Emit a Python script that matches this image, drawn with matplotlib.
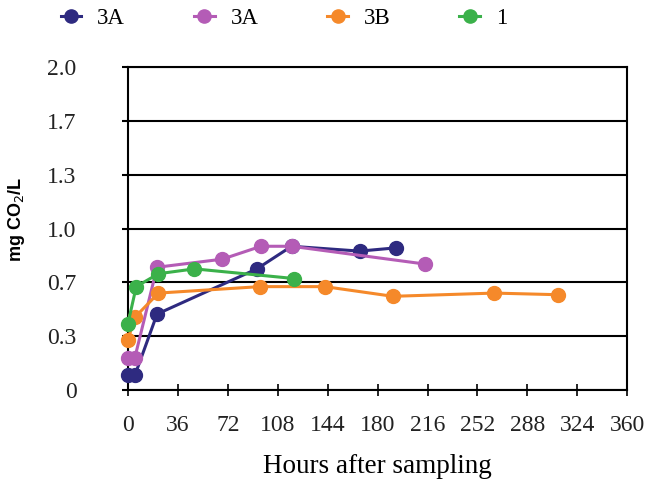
import numpy as np
import matplotlib
matplotlib.use("Agg")
import matplotlib.pyplot as plt

# data (hours, mg CO2/L)
blue_x = [0, 5, 21, 93, 118, 167, 193]
blue_y = [0.09, 0.09, 0.47, 0.75, 0.89, 0.86, 0.88]

pink_x = [0, 5, 21, 68, 96, 118, 214]
pink_y = [0.20, 0.20, 0.76, 0.81, 0.89, 0.89, 0.78]

orange_x = [0, 5, 22, 95, 142, 191, 264, 310]
orange_y = [0.31, 0.45, 0.60, 0.64, 0.64, 0.58, 0.60, 0.59]

green_x = [0, 6, 22, 48, 120]
green_y = [0.41, 0.64, 0.72, 0.75, 0.69]

labels = ["3A", "3A", "3B", "1"]
colors = ["#2e2a80", "#b45cb6", "#f5892a", "#3bb14a"]

xticks = np.arange(0, 361, 36)
yticks = [0, 1/3, 2/3, 1.0, 4/3, 5/3, 2.0]
ytick_labels = ["0", "0.3", "0.7", "1.0", "1.3", "1.7", "2.0"]

serif = "Liberation Serif"

fig = plt.figure(figsize=(6.46, 4.93), dpi=100)
ax = fig.add_axes([0.198, 0.209, 0.773, 0.655])

series = [(blue_x, blue_y), (pink_x, pink_y), (orange_x, orange_y), (green_x, green_y)]
handles = []
for (xs, ys), c, lab in zip(series, colors, labels):
    h, = ax.plot(xs, ys, color=c, lw=2.2, marker="o", markersize=10,
                 label=lab, clip_on=False, zorder=3)
    handles.append(h)

ax.set_xlim(0, 360)
ax.set_ylim(0, 2.0)
ax.set_xticks(xticks)
ax.set_yticks(yticks)
ax.set_yticklabels(ytick_labels)
ax.grid(axis="y", color="black", lw=1.5, zorder=1)
for sp in ax.spines.values():
    sp.set_linewidth(1.5)
    sp.set_color("black")
ax.tick_params(axis="x", direction="inout", length=8, width=1.2, pad=14)
ax.tick_params(axis="y", direction="out", length=4, width=1.5, pad=33)
for t in ax.get_xticklabels() + ax.get_yticklabels():
    t.set_fontfamily(serif)
    t.set_fontsize(17)
    t.set_color("#222222")

ax.set_xlabel("Hours after sampling", fontfamily=serif, fontsize=19.5, labelpad=13)
fig.text(0.025, 0.554, "mg CO$_2$/L", rotation=90, ha="center", va="center",
         fontfamily="Liberation Sans", fontweight="bold", fontsize=13)

fig.legend(handles=handles, labels=labels, loc="center left",
           bbox_to_anchor=(0.062, 0.963), ncol=4, frameon=False,
           prop={"family": serif, "size": 16.5}, handlelength=0.9,
           handletextpad=0.7, columnspacing=3.0, markerscale=0.95)

fig.savefig("out.png", dpi=100)
